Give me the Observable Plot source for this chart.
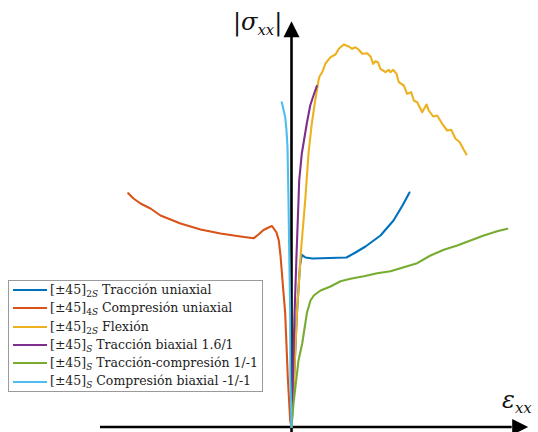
<!DOCTYPE html>
<html><head><meta charset="utf-8">
<script src="https://cdn.jsdelivr.net/npm/d3@7"></script>
<script src="https://cdn.jsdelivr.net/npm/@observablehq/plot@0.6"></script>
<style>
body{margin:0;background:#fff}
#wrap{position:relative;width:538px;height:432px;overflow:hidden}
#wrap svg{position:absolute;left:0;top:0}
.lab{position:absolute;font-family:"DejaVu Serif","Liberation Serif",serif;color:#111;white-space:nowrap;line-height:1}
.lab i{font-style:italic}
.lab sub{font-size:0.62em;vertical-align:-0.35em}
#legend{position:absolute;left:8px;top:280px;width:253px;height:110px;border:1px solid #9a9a9a;background:#fff;font-family:"DejaVu Serif","Liberation Serif",serif;font-size:12.5px;color:#222}
.row{position:relative;height:18.3px}
.sw{position:absolute;left:4px;width:34px;height:2px;top:8.2px}
.txt{position:absolute;left:41px;top:1px;white-space:nowrap}
.txt sub{font-size:9px;vertical-align:-3px}
</style></head><body><div id="wrap"></div><script>
// Series names and colours (legend order)
const seriesNames = [
  {base:"[±45]", sub:"2<i>S</i>", label:"Tracción uniaxial"},
  {base:"[±45]", sub:"4<i>S</i>", label:"Compresión uniaxial"},
  {base:"[±45]", sub:"2<i>S</i>", label:"Flexión"},
  {base:"[±45]", sub:"<i>S</i>", label:"Tracción biaxial 1.6/1"},
  {base:"[±45]", sub:"<i>S</i>", label:"Tracción-compresión 1/-1"},
  {base:"[±45]", sub:"<i>S</i>", label:"Compresión biaxial -1/-1"}
];
const seriesColors = ["#0072BD","#D95319","#EDB120","#7E2F8E","#77AC30","#4DBEEE"];

// strain (arbitrary units) / |stress| (arbitrary units)
const tracUniX = [0,2.5,5.3,8.5,10.3,14,21,55,64,74,89,102,111,118];
const tracUniY = [0,46.5,111.5,161.5,172.2,169.5,168.5,169.5,174.5,180.5,191.5,206.5,221.5,234.5];

const compUniX = [0,-1.3,-3.7,-6.3,-9,-11,-12.7,-15,-19.5,-23,-28,-33,-37.7,-51,-71,-91,-111,-131,-141,-151,-158,-163.3];
const compUniY = [0,6.5,49.8,113.5,146.5,171.5,186.5,194.5,201,199.5,197,192.5,188.8,190.5,193.5,197.5,203.5,211.5,218.5,223.5,228.5,233.8];

const flexX = [0,2.5,5.3,9.5,13.7,17,20.3,23.7,27,28,30.7,34,39,44,47.3,52.3,57.3,60.7,64,67.3,70.7,75.7,79,81.7,84,86.3,89,94,97.3,99,101.7,105,107.3,112.3,115.7,119.7,122.3,125.7,130.7,135,137.3,141.7,145.7,150.7,155.7,159.7,164,168.3,171.7,175];
const flexY = [0,46.5,111.5,176.5,226.5,273.5,303.5,326.5,346.5,350.5,354.8,363.5,369.8,372.5,378.2,382.5,380.5,378.2,379.8,377.2,373.2,373.8,370.5,363.2,365.8,364.8,358.2,354.8,357.2,354.8,357.2,353.2,344.8,341.5,333.2,334.8,326.5,324.8,314.8,322.5,316.5,310.5,311.5,303.2,296.5,297.2,288.2,284.8,278.2,272.5];

const biaxX = [0,1,3,5,7,7.7,10.3,15.3,18.7,22,25.3];
const biaxY = [0,33.5,111.5,171.5,226.5,246.5,273.5,303.5,321.5,331.5,341];

const tcX = [0,2,7,10.7,15.5,19,22.3,29,39,49,59,72.3,85.7,99,112.3,125.7,139,152.3,165.7,179,192.3,205.7,215.7];
const tcY = [0,23.5,66.5,83.5,114.5,126.5,131.5,136.5,140.5,145.8,148.2,150.8,153.8,155.8,159.8,163.8,171.5,177.2,181.5,186.5,191.5,195.8,198.2];

const cbX = [0,-1,-1.3,-2.3,-3,-4,-5,-6.3,-9.7];
const cbY = [0,46.5,116.5,176.5,226.5,279.8,296.5,309.8,324.8];

const seriesX = [tracUniX, compUniX, flexX, biaxX, tcX, cbX];
const seriesY = [tracUniY, compUniY, flexY, biaxY, tcY, cbY];

const data = seriesX.flatMap((xs, s) => xs.map((x, i) => ({s, x, y: seriesY[s][i]})));

// axis extent
const xAxisStart = -191, xAxisEnd = 220.7, yAxisEnd = 389.8;

const arrowHead = {
  draw(ctx, size) {
    const r = Math.sqrt(size / Math.PI);
    ctx.moveTo(0, -2 * r);
    ctx.lineTo(r, 0);
    ctx.lineTo(-r, 0);
    ctx.closePath();
  }
};

const chart = Plot.plot({
  width: 538, height: 432,
  marginLeft: 0, marginRight: 0, marginTop: 0, marginBottom: 0,
  x: {domain: [-291, 247], axis: null},
  y: {domain: [-5.5, 426.5], axis: null},
  marks: [
    Plot.ruleY([0], {x1: xAxisStart, x2: xAxisEnd, stroke: "black", strokeWidth: 2.6}),
    Plot.ruleX([0], {y1: -5.5, y2: yAxisEnd, stroke: "black", strokeWidth: 2.6}),
    Plot.dot([0], {x: xAxisEnd, y: 0, symbol: arrowHead, r: 8, fill: "black", rotate: 90}),
    Plot.dot([0], {x: 0, y: yAxisEnd, symbol: arrowHead, r: 8, fill: "black"}),
    ...seriesX.map((xs, s) => Plot.line(data.filter(d => d.s === s), {
      x: "x", y: "y", stroke: seriesColors[s], strokeWidth: 2.1, curve: "linear", strokeLinecap: "round"
    }))
  ]
});
const wrap = document.getElementById("wrap");
wrap.appendChild(chart);

const ylab = document.createElement("div");
ylab.className = "lab";
ylab.style.left = "233px"; ylab.style.top = "10px"; ylab.style.fontSize = "24px";
ylab.innerHTML = '|<i>σ</i><sub><i>xx</i></sub>|';
wrap.appendChild(ylab);

const xlab = document.createElement("div");
xlab.className = "lab";
xlab.style.left = "502px"; xlab.style.top = "388px"; xlab.style.fontSize = "24px";
xlab.innerHTML = '<i>ε</i><sub><i>xx</i></sub>';
wrap.appendChild(xlab);

const legend = document.createElement("div");
legend.id = "legend";
seriesNames.forEach((n, i) => {
  const row = document.createElement("div");
  row.className = "row";
  row.innerHTML = `<div class="sw" style="background:${seriesColors[i]}"></div><div class="txt">${n.base}<sub>${n.sub}</sub> ${n.label}</div>`;
  legend.appendChild(row);
});
wrap.appendChild(legend);
</script></body></html>
